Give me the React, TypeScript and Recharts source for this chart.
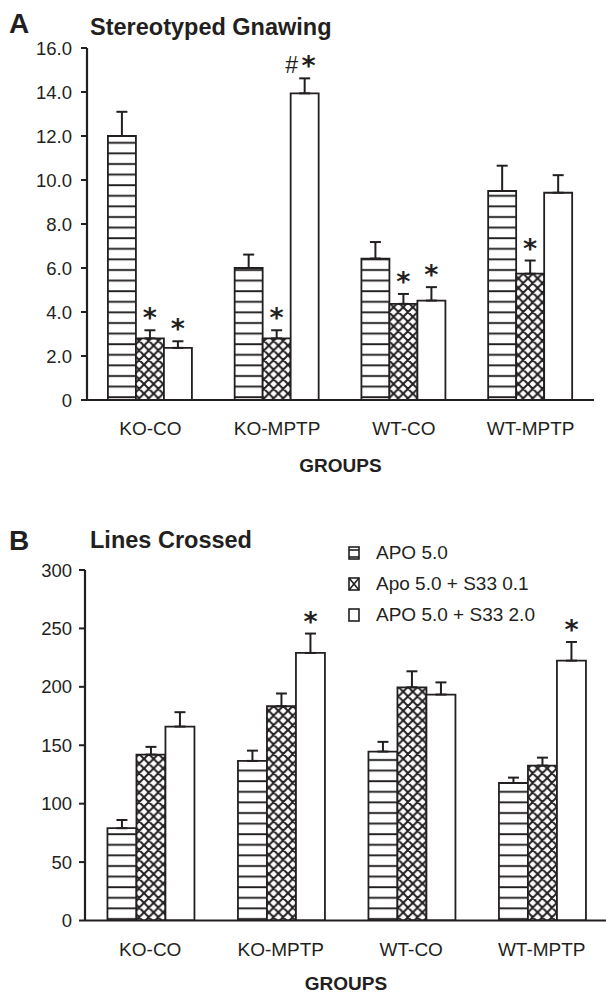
import React from 'react';
import { BarChart, Bar, XAxis, YAxis, ErrorBar, LabelList, Legend } from 'recharts';

const categories = ['KO-CO', 'KO-MPTP', 'WT-CO', 'WT-MPTP'];
const seriesNames = ['APO 5.0', 'Apo 5.0 + S33 0.1', 'APO 5.0 + S33 2.0'];

// Panel A: Stereotyped Gnawing
const gnawApo = [12.0, 6.0, 6.43, 9.5];
const gnawApoErr = [1.1, 0.61, 0.75, 1.15];
const gnawS01 = [2.8, 2.8, 4.37, 5.74];
const gnawS01Err = [0.37, 0.37, 0.45, 0.6];
const gnawS20 = [2.37, 13.94, 4.52, 9.42];
const gnawS20Err = [0.3, 0.68, 0.61, 0.8];
const gnawApoMarks = ['', '', '', ''];
const gnawS01Marks = ['*', '*', '*', '*'];
const gnawS20Marks = ['*', '#*', '*', ''];
const gnawTicks = [0, 2, 4, 6, 8, 10, 12, 14, 16];

// Panel B: Lines Crossed
const linesApo = [79, 136.6, 144.6, 117.7];
const linesApoErr = [7, 8.8, 8.3, 4.6];
const linesS01 = [142, 183.4, 199.6, 132.6];
const linesS01Err = [6.6, 10.9, 13.7, 6.8];
const linesS20 = [166, 229, 193.4, 222.4];
const linesS20Err = [12.3, 16.6, 10.4, 16];
const linesApoMarks = ['', '', '', ''];
const linesS01Marks = ['', '', '', ''];
const linesS20Marks = ['', '*', '', '*'];
const linesTicks = [0, 50, 100, 150, 200, 250, 300];

const boundaryTicks = [0, 1, 2, 3, 4];

const INK = '#231f20';
const FONT = '"Liberation Sans", Arial, Helvetica, sans-serif';

function buildRows(a: number[], aE: number[], b: number[], bE: number[], c: number[], cE: number[]) {
  return categories.map((name, i) => ({
    name,
    apo: a[i],
    apoErr: [0, aE[i]],
    s01: b[i],
    s01Err: [0, bE[i]],
    s20: c[i],
    s20Err: [0, cE[i]],
  }));
}

const gnawRows = buildRows(gnawApo, gnawApoErr, gnawS01, gnawS01Err, gnawS20, gnawS20Err);
const linesRows = buildRows(linesApo, linesApoErr, linesS01, linesS01Err, linesS20, linesS20Err);

const makeMarker = (marks: string[], errs: number[], vals: number[]) => (props: any) => {
  const index = props.index;
  if (index === undefined || index === null) return null;
  const m = marks[index];
  if (!m) return null;
  const vb = props.viewBox || props;
  const x = Number(vb.x);
  const y = Number(vb.y);
  const w = Number(vb.width);
  const h = Number(vb.height);
  const capY = y - (errs[index] * h) / vals[index];
  const cx = x + w / 2;
  const hasHash = m.indexOf('#') >= 0;
  return (
    <g>
      {hasHash && (
        <text x={cx - 13} y={capY - 5} textAnchor="middle" fontFamily={FONT} fontSize={23} fill={INK}>
          #
        </text>
      )}
      <text
        x={hasHash ? cx + 4 : cx}
        y={capY - 3}
        textAnchor="middle"
        fontFamily='"DejaVu Sans", sans-serif'
        fontWeight="bold"
        fontSize={27}
        fill={INK}
      >
        *
      </text>
    </g>
  );
};

const fmtGnaw = (v: number) => (v === 0 ? '0' : v.toFixed(1));

const LegendBox = () => (
  <div style={{ fontFamily: FONT, fontSize: 19, color: INK }}>
    {seriesNames.map((n, i) => (
      <div key={n} style={{ height: 31, display: 'flex', alignItems: 'center', whiteSpace: 'nowrap' }}>
        <svg width={28} height={14} style={{ display: 'block', marginRight: 0 }}>
          <rect x={1} y={1} width={10} height={12} fill="#fff" stroke={INK} strokeWidth={1.6} />
          {i === 0 && (
            <g stroke={INK} strokeWidth={1.6}>
              <line x1={1} y1={4} x2={11} y2={4} />
              <line x1={1} y1={11} x2={11} y2={11} />
            </g>
          )}
          {i === 1 && (
            <g stroke={INK} strokeWidth={1.6}>
              <line x1={1} y1={1} x2={11} y2={13} />
              <line x1={11} y1={1} x2={1} y2={13} />
            </g>
          )}
        </svg>
        <span>{n}</span>
      </div>
    ))}
  </div>
);

const Panel = (p: any) => {
  const {
    rows, width, height, margin, yWidth, yDomain, yTicks, yFmt, tickMargin,
    marks, errs, vals, gap, legend, labelOffset,
  } = p;
  return (
    <BarChart width={width} height={height} data={rows} margin={margin} barGap={0} barCategoryGap={gap}>
      <XAxis
        xAxisId="bd"
        type="number"
        domain={[0, 4]}
        ticks={boundaryTicks}
        allowDataOverflow
        height={0}
        axisLine={false}
        tickSize={7}
        tickLine={{ stroke: INK, strokeWidth: 2 }}
        tickFormatter={() => ''}
      />
      <XAxis
        dataKey="name"
        interval={0}
        height={72}
        tickLine={false}
        tickSize={0}
        tickMargin={22}
        axisLine={{ stroke: INK, strokeWidth: 2.2 }}
        tick={{ fontSize: 19, fill: INK, fontFamily: FONT }}
        label={{ value: 'GROUPS', position: 'insideBottom', offset: labelOffset, fontSize: 19, fontWeight: 'bold', fill: INK, fontFamily: FONT }}
      />
      <YAxis
        width={yWidth}
        domain={yDomain}
        ticks={yTicks}
        interval={0}
        allowDataOverflow
        tickFormatter={yFmt}
        tickSize={6}
        tickMargin={tickMargin}
        axisLine={{ stroke: INK, strokeWidth: 2.2 }}
        tickLine={{ stroke: INK, strokeWidth: 2 }}
        tick={{ fontSize: 18.5, fill: INK, fontFamily: FONT }}
      />
      {legend && (
        <Legend
          layout="vertical"
          align="center"
          verticalAlign="middle"
          content={() => <LegendBox />}
          wrapperStyle={{ top: 47.5, left: 348, width: 260 }}
        />
      )}
      <Bar dataKey="apo" name={seriesNames[0]} fill="url(#stripes)" stroke={INK} strokeWidth={1.8} isAnimationActive={false}>
        <ErrorBar dataKey="apoErr" width={5.5} stroke={INK} strokeWidth={2} direction="y" />
        <LabelList dataKey="apo" content={makeMarker(marks[0], errs[0], vals[0])} />
      </Bar>
      <Bar dataKey="s01" name={seriesNames[1]} fill="url(#hatch)" stroke={INK} strokeWidth={1.8} isAnimationActive={false}>
        <ErrorBar dataKey="s01Err" width={5.5} stroke={INK} strokeWidth={2} direction="y" />
        <LabelList dataKey="s01" content={makeMarker(marks[1], errs[1], vals[1])} />
      </Bar>
      <Bar dataKey="s20" name={seriesNames[2]} fill="#ffffff" stroke={INK} strokeWidth={1.8} isAnimationActive={false}>
        <ErrorBar dataKey="s20Err" width={5.5} stroke={INK} strokeWidth={2} direction="y" />
        <LabelList dataKey="s20" content={makeMarker(marks[2], errs[2], vals[2])} />
      </Bar>
    </BarChart>
  );
};

export default function App() {
  return (
    <div style={{ position: 'absolute', left: 0, top: 0, width: 606, height: 993, overflow: 'hidden', background: '#fff' }}>
      <svg width={0} height={0} style={{ position: 'absolute' }}>
        <defs>
          <pattern id="stripes" patternUnits="userSpaceOnUse" width={8} height={10.6}>
            <rect width={8} height={10.6} fill="#fff" />
            <line x1={0} y1={5} x2={8} y2={5} stroke={INK} strokeWidth={1.9} />
          </pattern>
          <pattern id="hatch" patternUnits="userSpaceOnUse" width={9.6} height={9.6}>
            <rect width={9.6} height={9.6} fill="#fff" />
            <path d="M0,0 L9.6,9.6 M9.6,0 L0,9.6 M-1,1 L1,-1 M8.6,10.6 L10.6,8.6 M-1,8.6 L1,10.6 M8.6,-1 L10.6,1" stroke={INK} strokeWidth={2} />
          </pattern>
        </defs>
      </svg>
      <svg width={606} height={993} style={{ position: 'absolute', left: 0, top: 0, pointerEvents: 'none' }}>
        <text x={9} y={33} fontFamily={FONT} fontWeight="bold" fontSize={28} fill={INK}>A</text>
        <text x={90} y={35} fontFamily={FONT} fontWeight="bold" fontSize={23.5} fill={INK}>Stereotyped Gnawing</text>
        <text x={9} y={550} fontFamily={FONT} fontWeight="bold" fontSize={28} fill={INK}>B</text>
        <text x={90} y={548} fontFamily={FONT} fontWeight="bold" fontSize={23.5} fill={INK}>Lines Crossed</text>
      </svg>
      <div style={{ position: 'absolute', left: 0, top: 0 }}>
        <Panel
          rows={gnawRows}
          width={606}
          height={480}
          margin={{ top: 48, right: 12, bottom: 8, left: 0 }}
          yWidth={87}
          yDomain={[0, 16]}
          yTicks={gnawTicks}
          yFmt={fmtGnaw}
          tickMargin={9}
          gap="16.5%"
          marks={[gnawApoMarks, gnawS01Marks, gnawS20Marks]}
          errs={[gnawApoErr, gnawS01Err, gnawS20Err]}
          vals={[gnawApo, gnawS01, gnawS20]}
          legend={false}
          labelOffset={0}
        />
      </div>
      <div style={{ position: 'absolute', left: 0, top: 490 }}>
        <Panel
          rows={linesRows}
          width={620}
          height={503}
          margin={{ top: 80, right: 13, bottom: 0.5, left: 0 }}
          yWidth={85}
          yDomain={[0, 300]}
          yTicks={linesTicks}
          yFmt={(v: number) => String(v)}
          tickMargin={7}
          gap="17.2%"
          marks={[linesApoMarks, linesS01Marks, linesS20Marks]}
          errs={[linesApoErr, linesS01Err, linesS20Err]}
          vals={[linesApo, linesS01, linesS20]}
          legend={true}
          labelOffset={3}
        />
      </div>
    </div>
  );
}
